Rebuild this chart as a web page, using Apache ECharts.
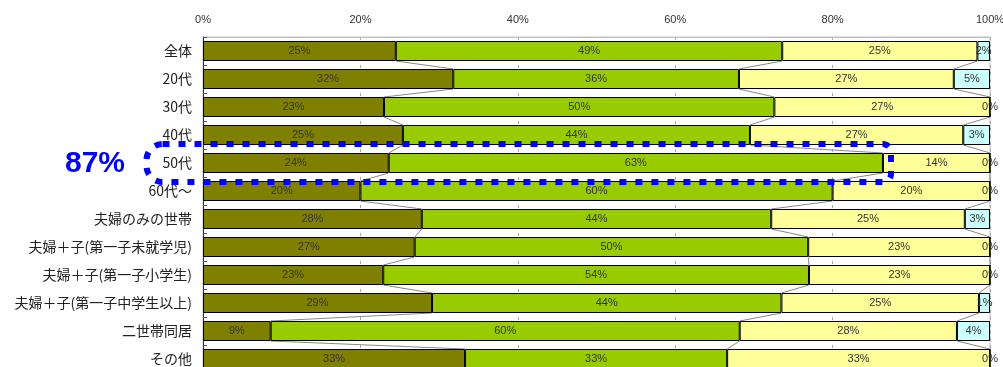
<!DOCTYPE html>
<html><head><meta charset="utf-8">
<script src="https://cdn.jsdelivr.net/npm/echarts@6/dist/echarts.min.js"></script>
<style>html,body{margin:0;padding:0;background:#fff}#c{width:1003px;height:367px}</style>
</head><body><div id="c"></div>
<script>
var categories = ['全体','20代','30代','40代','50代','60代～','夫婦のみの世帯','夫婦＋子(第一子未就学児)','夫婦＋子(第一子小学生)','夫婦＋子(第一子中学生以上)','二世帯同居','その他'];
var s1 = [24.5, 31.8, 23.0, 25.4, 23.6, 20.0, 27.8, 26.9, 22.9, 29.1, 8.6, 33.3];
var s2 = [49.1, 36.3, 49.6, 44.1, 62.8, 60.0, 44.4, 50.0, 54.1, 44.4, 59.6, 33.3];
var s3 = [24.8, 27.3, 27.4, 27.1, 13.6, 20.0, 24.6, 23.1, 23.0, 25.1, 27.6, 33.4];
var s4 = [1.6, 4.6, 0, 3.4, 0, 0, 3.2, 0, 0, 1.4, 4.2, 0];
var xTicks = ['0%','20%','40%','60%','80%','100%'];
var highlightRow = 4;
var highlightText = '87%';

var colors = ['#808000','#99CC00','#FFFF99','#CCFFFF'];
var seriesData = [s1, s2, s3, s4];
var font = '"Liberation Sans", Arial, sans-serif';

var chart = echarts.init(document.getElementById('c'));

function cum(k, i){ var t=0; for(var j=0;j<=k;j++) t+=seriesData[j][i]; return t; }

var series = seriesData.map(function(d, k){
  return {
    type:'bar', stack:'a', data:d, barWidth:20,
    itemStyle:{color:colors[k], borderColor:'#000', borderWidth:1},
    label:{show:true, position:'inside', fontSize:11, color:'#333', fontFamily:font,
      formatter:function(p){return Math.round(p.value)+'%';}},
    z:3
  };
});
series.push({
  type:'custom', z:2, silent:true,
  data: categories.slice(0, categories.length-1).map(function(c,i){return i;}),
  renderItem:function(params, api){
    var i = params.dataIndex;
    var h = 10;
    var children = [];
    for (var k=0;k<3;k++){
      var a = api.coord([cum(k,i), i]);
      var b = api.coord([cum(k,i+1), i+1]);
      children.push({type:'line', shape:{x1:a[0], y1:a[1]+h, x2:b[0], y2:b[1]-h},
        style:{stroke:'#888', lineWidth:1}});
    }
    return {type:'group', children:children};
  }
});

chart.setOption({
  animation:false,
  grid:{left:203, right:13, top:37, bottom:-6, show:true, borderColor:'#c0c0c0', borderWidth:1, containLabel:false, outerBoundsMode:'none'},
  xAxis:{type:'value', position:'top', min:0, max:100, interval:20,
    axisLine:{show:true, lineStyle:{color:'#c0c0c0'}},
    axisTick:{show:false},
    axisLabel:{margin:12, fontSize:11, color:'#333', fontFamily:font,
      formatter:function(v){return xTicks[Math.round(v/20)];}},
    splitLine:{show:true, lineStyle:{color:'#aaa', type:[3,4], width:1}}
  },
  yAxis:{type:'category', data:categories, inverse:true,
    axisLine:{show:true, lineStyle:{color:'#333'}},
    axisTick:{show:true, inside:true, length:4, lineStyle:{color:'#555'}},
    axisLabel:{margin:11, fontSize:14, color:'#222', fontFamily:'"Noto Sans CJK JP", sans-serif'}
  },
  series:series
});

var left = 146.5;
var right = chart.convertToPixel({xAxisIndex:0}, s1[highlightRow]+s2[highlightRow]) + 8;
var cy = chart.convertToPixel({yAxisIndex:0}, highlightRow);
chart.setOption({graphic:[
  {type:'rect', z:100, shape:{x:left, y:cy-19, width:right-left, height:38, r:[16,8,8,16]},
   style:{fill:null, stroke:'#0000FF', lineWidth:6, lineDash:[7,9]}},
  {type:'text', z:100, x:95, y:cy+0.5, style:{text:highlightText, fill:'#0000FF', font:'bold 30px "Liberation Sans", Arial, sans-serif', align:'center', verticalAlign:'middle'}}
]});
</script></body></html>
